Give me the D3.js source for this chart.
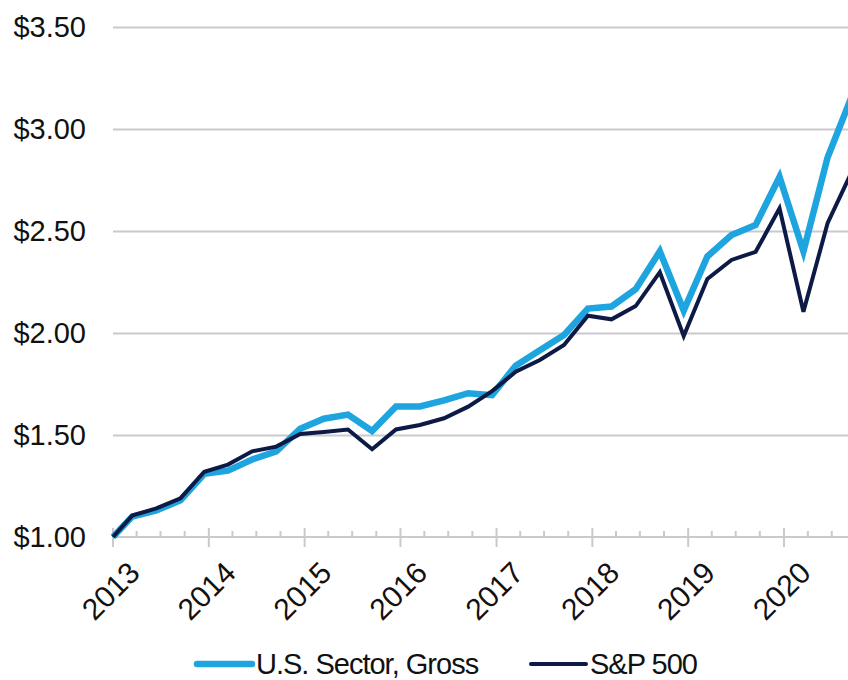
<!DOCTYPE html>
<html>
<head>
<meta charset="utf-8">
<script src="https://cdn.jsdelivr.net/npm/d3@7"></script>
<style>
  body { margin: 0; background: #fff; }
  svg { display: block; font-family: "Liberation Sans", Arial, sans-serif; }
  .axis-grid line { stroke: #c9cacd; stroke-width: 2; }
  .axis-grid path { stroke: none; }
</style>
</head>
<body>
<div id="chart"></div>
<script>

      // quarterly observations (first point is the $1.00 start)
      var dates = ["2013-01-01",
        "2013-03-15", "2013-06-15", "2013-09-15", "2013-12-15",
        "2014-03-15", "2014-06-15", "2014-09-15", "2014-12-15",
        "2015-03-15", "2015-06-15", "2015-09-15", "2015-12-15",
        "2016-03-15", "2016-06-15", "2016-09-15", "2016-12-15",
        "2017-03-15", "2017-06-15", "2017-09-15", "2017-12-15",
        "2018-03-15", "2018-06-15", "2018-09-15", "2018-12-15",
        "2019-03-15", "2019-06-15", "2019-09-15", "2019-12-15",
        "2020-03-15", "2020-06-15", "2020-09-15"];

      var sectorGross = [1.00,
        1.10, 1.13, 1.18, 1.31,
        1.325, 1.38, 1.42, 1.53,
        1.58, 1.60, 1.52, 1.64,
        1.64, 1.67, 1.705, 1.695,
        1.84, 1.915, 1.99, 2.12,
        2.13, 2.215, 2.40, 2.11,
        2.375, 2.48, 2.53, 2.765,
        2.40, 2.86, 3.16];

      var sp500 = [1.00,
        1.105, 1.14, 1.19, 1.32,
        1.355, 1.42, 1.443, 1.505,
        1.515, 1.527, 1.43, 1.527,
        1.549, 1.582, 1.639, 1.715,
        1.81, 1.868, 1.941, 2.085,
        2.067, 2.132, 2.298, 1.985,
        2.265, 2.358, 2.398, 2.611,
        2.104, 2.538, 2.79];

      var yTicks = [1.00, 1.50, 2.00, 2.50, 3.00, 3.50];
      var yearTicks = [2013, 2014, 2015, 2016, 2017, 2018, 2019, 2020];

      var seriesNames = ["U.S. Sector, Gross", "S&P 500"];
      var seriesColors = ["#1ea4de", "#0d1a45"];
      var seriesWidths = [6.5, 4];

      var svgWidth = 848, svgHeight = 680;
      var plotLeft = 113, plotRight = 848, plotTop = 27, plotBottom = 537;

      var parseDate = d3.timeParse("%Y-%m-%d");

      var svg = d3.select("#chart").append("svg")
                .attr("width", svgWidth)
                .attr("height", svgHeight);

      ////// Define Scales /////////////////
      var xScale = d3.scaleTime()
          .domain([new Date(2013, 0, 1), new Date(2020, 0, 1)])
          .range([plotLeft, 784]);
      var yScale = d3.scaleLinear()
          .domain([1, 3.5])
          .range([plotBottom, plotTop]);

      // horizontal grid
      svg.append("g")
        .attr("class", "axis-grid")
        .attr("transform", "translate(" + plotLeft + ",0)")
        .call(d3.axisLeft(yScale).tickValues(yTicks.slice(1)).tickSize(-(plotRight - plotLeft)).tickFormat(""));

      // y labels
      svg.append("g")
        .selectAll("text")
        .data(yTicks)
        .enter()
        .append("text")
        .attr("x", 86)
        .attr("y", function(d) { return yScale(d); })
        .attr("dy", "0.36em")
        .attr("text-anchor", "end")
        .attr("font-size", 29)
        .attr("fill", "#111")
        .text(function(d) { return "$" + d3.format(".2f")(d); });

      // x axis line and ticks
      svg.append("line")
        .attr("x1", plotLeft).attr("x2", plotRight)
        .attr("y1", plotBottom).attr("y2", plotBottom)
        .attr("stroke", "#c9cacd").attr("stroke-width", 2);

      var minorTicks = d3.timeMonth.every(3).range(new Date(2013, 0, 1), new Date(2020, 11, 31));

      svg.append("g")
        .selectAll("line")
        .data(minorTicks)
        .enter()
        .append("line")
        .attr("x1", function(d) { return xScale(d); })
        .attr("x2", function(d) { return xScale(d); })
        .attr("y1", function(d) { return d.getMonth() === 0 ? plotBottom - 9 : plotBottom - 6; })
        .attr("y2", function(d) { return d.getMonth() === 0 ? plotBottom + 10 : plotBottom; })
        .attr("stroke", "#c9cacd")
        .attr("stroke-width", 2);

      // rotated year labels
      svg.append("g")
        .selectAll("text")
        .data(yearTicks)
        .enter()
        .append("text")
        .attr("transform", function(d) {
            return "translate(" + (xScale(new Date(d, 0, 1)) + 21) + "," + 567 + ") rotate(-45)";
        })
        .attr("dy", "0.36em")
        .attr("text-anchor", "end")
        .attr("font-size", 30)
        .attr("fill", "#111")
        .text(function(d) { return d; });

      // lines
      var lineGen = d3.line()
          .x(function(d) { return xScale(d.date); })
          .y(function(d) { return yScale(d.value); });

      [sectorGross, sp500].forEach(function(values, k) {
          var pts = values.map(function(v, i) {
              return {date: parseDate(dates[i]), value: v};
          });
          svg.append("path")
            .datum(pts)
            .attr("fill", "none")
            .attr("stroke", seriesColors[k])
            .attr("stroke-width", seriesWidths[k])
            .attr("stroke-linejoin", "miter")
            .attr("d", lineGen);
      });

      // legend
      var legendX = [197, 531];
      var legend = svg.append("g")
          .selectAll("g")
          .data(seriesNames)
          .enter()
          .append("g")
          .attr("transform", function(d, i) { return "translate(" + legendX[i] + ",664)"; });

      legend.append("line")
        .attr("x1", 0).attr("x2", 55)
        .attr("stroke", function(d, i) { return seriesColors[i]; })
        .attr("stroke-width", function(d, i) { return seriesWidths[i]; })
        .attr("stroke-linecap", "round");

      legend.append("text")
        .attr("x", 59)
        .attr("dy", "0.36em")
        .attr("font-size", 29)
        .attr("letter-spacing", "-1px")
        .attr("fill", "#111")
        .text(function(d) { return d; });

</script>
</body>
</html>
